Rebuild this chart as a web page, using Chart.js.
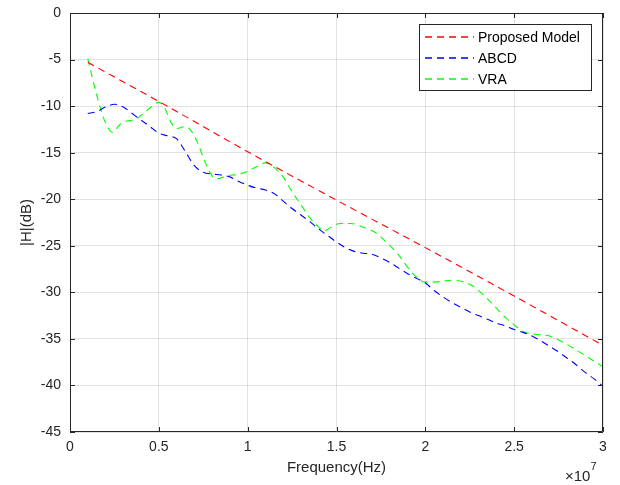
<!DOCTYPE html>
<html>
<head>
<meta charset="utf-8">
<script src="https://cdn.jsdelivr.net/npm/chart.js@4/dist/chart.umd.min.js"></script>
<style>
  html, body { margin: 0; padding: 0; background: #fff; }
  #wrap { width: 620px; height: 485px; }
</style>
</head>
<body>
<div id="wrap"><canvas id="chart" width="620" height="485"></canvas></div>
<script>
// frequencies in units of 1e7 Hz, magnitudes in dB
const proposedFreq = [0.1, 0.5, 1.0, 1.5, 2.0, 2.5, 3.0];
const proposedDb   = [-5.3, -9.5, -14.9, -20.1, -25.2, -30.4, -35.7];

const abcdFreq = [0.10, 0.15, 0.20, 0.25, 0.30, 0.35, 0.40, 0.45, 0.50, 0.55, 0.60, 0.65, 0.70, 0.75, 0.80,
                  0.85, 0.90, 0.95, 1.00, 1.05, 1.10, 1.15, 1.20, 1.25, 1.30, 1.35, 1.40, 1.45, 1.50, 1.55,
                  1.60, 1.65, 1.70, 1.75, 1.80, 1.85, 1.90, 1.95, 2.00, 2.05, 2.10, 2.15, 2.20, 2.25, 2.30,
                  2.35, 2.40, 2.45, 2.50, 2.55, 2.60, 2.65, 2.70, 2.75, 2.80, 2.85, 2.90, 2.95, 3.00];
const abcdDb   = [-10.8, -10.6, -10.1, -9.8, -10.1, -10.8, -11.5, -12.2, -12.9, -13.2, -13.5, -14.9, -16.4, -17.1, -17.3,
                  -17.4, -17.6, -18.1, -18.5, -18.8, -19.0, -19.4, -20.2, -21.0, -21.7, -22.4, -23.2, -23.9, -24.6, -25.2,
                  -25.6, -25.8, -25.9, -26.3, -26.8, -27.4, -28.0, -28.5, -29.0, -29.8, -30.5, -31.1, -31.6, -32.1, -32.5,
                  -32.9, -33.3, -33.6, -34.0, -34.3, -34.7, -35.2, -35.8, -36.4, -37.1, -37.8, -38.6, -39.3, -40.1];

const vraFreq = [0.10, 0.15, 0.20, 0.24, 0.28, 0.32, 0.36, 0.40, 0.45, 0.50, 0.53, 0.57, 0.60, 0.65, 0.68,
                 0.72, 0.76, 0.80, 0.83, 0.88, 0.95, 1.00, 1.05, 1.10, 1.15, 1.20, 1.25, 1.30, 1.35, 1.40,
                 1.43, 1.47, 1.52, 1.58, 1.65, 1.72, 1.78, 1.85, 1.93, 2.00, 2.05, 2.15, 2.22, 2.28, 2.35,
                 2.40, 2.45, 2.50, 2.55, 2.62, 2.70, 2.77, 2.85, 2.95, 3.00];
const vraDb   = [-4.9, -8.8, -11.8, -12.8, -12.0, -11.6, -11.5, -11.0, -10.2, -9.6, -10.1, -11.8, -12.4, -12.2, -12.6,
                 -14.0, -16.0, -17.5, -17.8, -17.5, -17.3, -17.0, -16.5, -16.1, -16.6, -17.6, -19.2, -20.6, -22.0, -23.0,
                 -23.4, -23.0, -22.6, -22.6, -23.0, -23.6, -24.6, -26.0, -28.0, -28.9, -28.9, -28.7, -28.9, -29.5, -30.7,
                 -31.7, -32.7, -33.5, -34.2, -34.5, -34.7, -35.3, -36.2, -37.4, -38.0];

const seriesNames = ['Proposed Model', 'ABCD', 'VRA'];
const seriesColors = ['#ff0000', '#0000ff', '#00ff00'];

const FONT = '"Liberation Sans", Arial, Helvetica, sans-serif';
const AXIS = '#262626';
const dash = [7, 5];

function pts(fs, ys) {
    return fs.map((f, i) => ({ x: f * 1e7, y: ys[i] }));
}

// MATLAB-like box, inner ticks, labels and legend
const matlabAxes = {
    id: 'matlabAxes',
    afterDraw(chart) {
        const ctx = chart.ctx;
        const a = chart.chartArea;
        const xs = chart.scales.x, ys = chart.scales.y;
        ctx.save();
        ctx.strokeStyle = AXIS;
        ctx.lineWidth = 1;
        ctx.beginPath();
        ctx.rect(a.left + 0.5, a.top + 0.5, a.right - a.left - 1, a.bottom - a.top - 1);
        ctx.stroke();

        const tl = 5;
        ctx.beginPath();
        xs.ticks.forEach(t => {
            const px = Math.round(xs.getPixelForValue(t.value)) + 0.5;
            ctx.moveTo(px, a.bottom); ctx.lineTo(px, a.bottom - tl);
            ctx.moveTo(px, a.top); ctx.lineTo(px, a.top + tl);
        });
        ys.ticks.forEach(t => {
            const py = Math.round(ys.getPixelForValue(t.value)) + 0.5;
            ctx.moveTo(a.left, py); ctx.lineTo(a.left + tl, py);
            ctx.moveTo(a.right, py); ctx.lineTo(a.right - tl, py);
        });
        ctx.stroke();

        // axis titles
        ctx.fillStyle = AXIS;
        ctx.font = '15px ' + FONT;
        ctx.textAlign = 'center';
        ctx.textBaseline = 'middle';
        ctx.fillText('Frequency(Hz)', (a.left + a.right) / 2, 468);
        ctx.save();
        ctx.translate(27, (a.top + a.bottom) / 2);
        ctx.rotate(-Math.PI / 2);
        ctx.fillText('|H|(dB)', 0, 0);
        ctx.restore();

        // exponent label
        ctx.textAlign = 'left';
        ctx.font = '15px ' + FONT;
        ctx.fillText('\u00d710', 565, 477);
        const w = ctx.measureText('\u00d710').width;
        ctx.font = '11px ' + FONT;
        ctx.fillText('7', 565 + w, 467);

        // legend
        const lx = 419, ly = 24, lw = 172, lh = 66;
        ctx.fillStyle = '#ffffff';
        ctx.fillRect(lx, ly, lw, lh);
        ctx.strokeStyle = AXIS;
        ctx.strokeRect(lx + 0.5, ly + 0.5, lw, lh);
        const rows = [37, 58, 79];
        ctx.font = '14px ' + FONT;
        ctx.textBaseline = 'middle';
        seriesNames.forEach((n, i) => {
            ctx.strokeStyle = seriesColors[i];
            ctx.lineWidth = 1.3;
            ctx.setLineDash(dash);
            ctx.beginPath();
            ctx.moveTo(425, rows[i]);
            ctx.lineTo(474, rows[i]);
            ctx.stroke();
            ctx.setLineDash([]);
            ctx.fillStyle = '#000';
            ctx.fillText(n, 478, rows[i] + 1);
        });
        ctx.restore();
    }
};

const allSeries = [pts(proposedFreq, proposedDb), pts(abcdFreq, abcdDb), pts(vraFreq, vraDb)];

new Chart(document.getElementById('chart'), {
    type: 'line',
    data: {
        datasets: allSeries.map((d, i) => ({
            label: seriesNames[i],
            data: d,
            borderColor: seriesColors[i],
            borderWidth: 1.1,
            borderDash: dash,
            pointRadius: 0,
            fill: false,
            cubicInterpolationMode: 'monotone'
        }))
    },
    options: {
        responsive: false,
        animation: false,
        layout: { padding: { top: 13, right: 17, left: 0, bottom: 0 } },
        plugins: { legend: { display: false }, tooltip: { enabled: false } },
        scales: {
            x: {
                type: 'linear',
                min: 0, max: 3e7,
                afterFit: s => { s.height = 53; s.paddingLeft = 0; s.paddingRight = 0; },
                ticks: {
                    stepSize: 5e6,
                    color: AXIS,
                    font: { family: FONT, size: 14 },
                    padding: 7,
                    maxRotation: 0,
                    callback: v => String(v / 1e7)
                },
                grid: { color: 'rgba(38,38,38,0.13)', drawTicks: false },
                border: { display: false }
            },
            y: {
                min: -45, max: 0,
                afterFit: s => { s.width = 70; s.paddingTop = 0; s.paddingBottom = 0; },
                ticks: {
                    stepSize: 5,
                    color: AXIS,
                    font: { family: FONT, size: 14 },
                    padding: 9
                },
                grid: { color: 'rgba(38,38,38,0.13)', drawTicks: false },
                border: { display: false }
            }
        }
    },
    plugins: [matlabAxes]
});
</script>
</body>
</html>
